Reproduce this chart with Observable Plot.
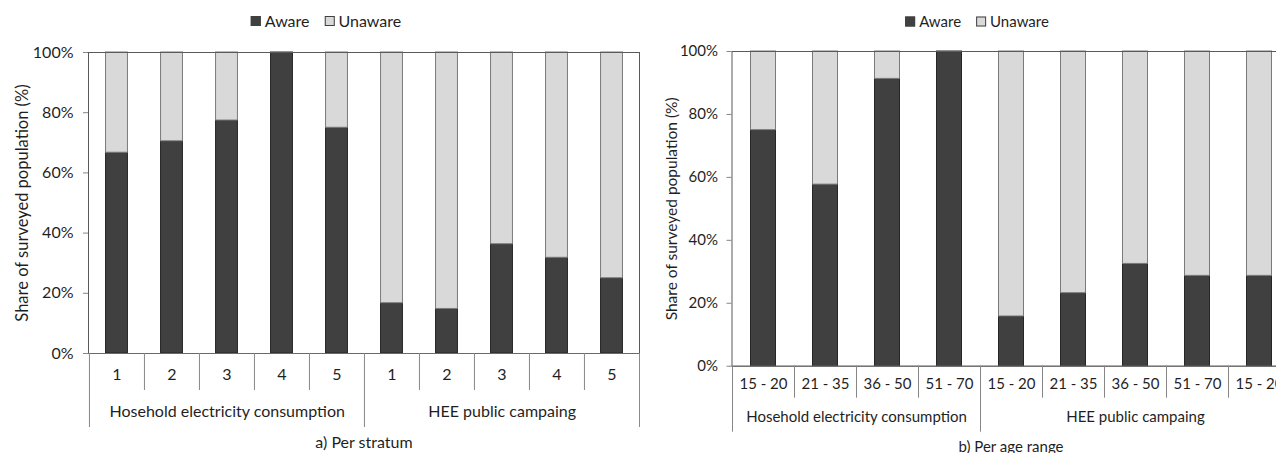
<!DOCTYPE html>
<html><head><meta charset="utf-8">
<script src="https://cdn.jsdelivr.net/npm/d3@7"></script>
<script src="https://cdn.jsdelivr.net/npm/@observablehq/plot@0.6"></script>
<style>
html,body{margin:0;padding:0;background:#fff;overflow:hidden;}
#wrap{position:relative;width:1276px;height:453px;overflow:hidden;font-family:Lato,sans-serif;color:#1f1f1f;}
.panel{position:absolute;top:0;height:453px;}
.panel svg{max-width:none !important;}
.legend{position:absolute;display:flex;align-items:center;transform:translate(-50%,-50%);white-space:nowrap;line-height:1;}
.sw{display:inline-block;width:8px;height:8px;border:1px solid #404040;margin-right:4px;}
.caption{position:absolute;transform:translate(-50%,-50%);white-space:nowrap;line-height:1;}
</style></head><body><div id="wrap"></div>
<script>
// ---- data ----
const seriesNames = ["Aware", "Unaware"];
const groupNames = ["Hosehold electricity consumption", "HEE public campaing"];
const strataLabels = ["1", "2", "3", "4", "5", "1", "2", "3", "4", "5"];
const strataGroupSizes = [5, 5];
const awareStratum = [66.7, 70.5, 77.4, 100, 75.0, 16.7, 14.8, 36.3, 31.8, 25.0];
const unawareStratum = [33.3, 29.5, 22.6, 0, 25.0, 83.3, 85.2, 63.7, 68.2, 75.0];
const ageLabels = ["15 - 20", "21 - 35", "36 - 50", "51 - 70", "15 - 20", "21 - 35", "36 - 50", "51 - 70", "15 - 20"];
const ageGroupSizes = [4, 5];
const awareAge = [75.0, 57.7, 91.3, 100, 15.8, 23.2, 32.5, 28.7, 28.7];
const unawareAge = [25.0, 42.3, 8.7, 0, 84.2, 76.8, 67.5, 71.3, 71.3];
const yTicks = [0, 20, 40, 60, 80, 100];
const yLabel = "Share of surveyed population (%)";
const captions = ["a) Per stratum", "b) Per age range"];

const fills = {Aware: "#404040", Unaware: "#d9d9d9"};
const strokes = {Aware: "#262626", Unaware: "#7a7a7a"};
const textColor = "#1f1f1f";

function panel(o) {
  const n = o.labels.length;
  const rows = [];
  o.labels.forEach((l, i) => rows.push({key: String(i), label: l, status: "Aware", value: o.aware[i]}));
  o.labels.forEach((l, i) => rows.push({key: String(i), label: l, status: "Unaware", value: o.unaware[i]}));
  const cats = rows.filter(d => d.status === "Aware");
  const plotW = o.width - o.ml - o.mr, plotH = o.height - o.mt - o.mb;
  const step = plotW / n;
  const inset = (step - o.barWidth) / 2;
  const starts = []; let s = 0; o.groupSizes.forEach(g => { starts.push(s); s += g; });
  const line = "#868686";
  const marks = [
    Plot.barY(rows, Plot.stackY({x: "key", y: "value", z: "status", order: seriesNames,
      fill: d => fills[d.status], stroke: d => strokes[d.status], strokeWidth: 1,
      insetLeft: inset, insetRight: inset})),
    Plot.frame({stroke: "#5a5a5a"}),
    Plot.ruleY([0], {stroke: "#6a6a6a"}),
    Plot.axisY({ticks: yTicks, tickFormat: d => d + "%", tickSize: 5, tickPadding: o.tickPadding,
      fontSize: o.fontSize, stroke: line, fill: textColor,
      label: null}),
    Plot.text([yLabel], {text: d => d, frameAnchor: "left", rotate: -90, dx: -o.yLabelOffset,
      fontSize: o.yLabelSize, fill: textColor, textAnchor: "middle"}),
    Plot.text(cats, {x: "key", text: "label", frameAnchor: "bottom", dy: o.labelDy, fontSize: o.fontSize, fill: textColor}),
    Plot.ruleX(cats.filter((d, i) => !starts.includes(i)), {x: "key", dx: -step / 2, insetTop: plotH, insetBottom: -o.sepDepth, stroke: line}),
    Plot.ruleX(starts.map(i => cats[i]), {x: "key", dx: -step / 2, insetTop: plotH, insetBottom: -o.groupDepth, stroke: line}),
    Plot.ruleX([cats[n - 1]], {x: "key", dx: step / 2, insetTop: plotH, insetBottom: -o.groupDepth, stroke: line}),
    ...o.groupNames.map((g, gi) => Plot.text([g], {x: () => cats[starts[gi]].key, text: d => d,
      dx: (o.groupSizes[gi] - 1) * step / 2, frameAnchor: "bottom", dy: o.groupDy, fontSize: o.fontSize, fill: textColor}))
  ];
  return Plot.plot({
    width: o.width, height: o.height,
    marginLeft: o.ml, marginRight: o.mr, marginTop: o.mt, marginBottom: o.mb,
    x: {type: "band", domain: cats.map(d => d.key), padding: 0, axis: null},
    y: {domain: [0, 100]},
    color: {type: "identity"},
    style: {fontFamily: "Lato, sans-serif", fontSize: o.fontSize + "px", background: "white", overflow: "visible", maxWidth: "none"},
    marks
  });
}

function legend(x, y, fontSize) {
  const d = document.createElement("div");
  d.className = "legend";
  d.style.left = x + "px"; d.style.top = y + "px"; d.style.fontSize = fontSize + "px";
  seriesNames.forEach((nme, i) => {
    const sw = document.createElement("span");
    sw.className = "sw"; sw.style.background = fills[nme];
    if (i > 0) sw.style.marginLeft = "15px";
    const t = document.createElement("span"); t.textContent = nme;
    d.appendChild(sw); d.appendChild(t);
  });
  return d;
}
function caption(text, x, y, fontSize) {
  const d = document.createElement("div");
  d.className = "caption"; d.textContent = text;
  d.style.left = x + "px"; d.style.top = y + "px"; d.style.fontSize = fontSize + "px";
  return d;
}

const wrap = document.getElementById("wrap");
const left = panel({labels: strataLabels, groupNames, groupSizes: strataGroupSizes, aware: awareStratum, unaware: unawareStratum,
  width: 640, height: 453, ml: 88, mr: 1, mt: 52, mb: 100, fontSize: 16, yLabelSize: 16.5, barWidth: 22, tickPadding: 10,
  labelDy: 26, sepDepth: 37, groupDy: 63, groupDepth: 74, yLabelOffset: 66});
const lp = document.createElement("div"); lp.className = "panel"; lp.style.left = "0px"; lp.style.width = "640px"; lp.appendChild(left);
wrap.appendChild(lp);

const right = panel({labels: ageLabels, groupNames, groupSizes: ageGroupSizes, aware: awareAge, unaware: unawareAge,
  width: 650, height: 453, ml: 91.5, mr: 0.5, mt: 51, mb: 87.3, fontSize: 15, yLabelSize: 15.5, barWidth: 25, tickPadding: 9,
  labelDy: 23, sepDepth: 32, groupDy: 56, groupDepth: 66, yLabelOffset: 60});
const rp = document.createElement("div"); rp.className = "panel"; rp.style.left = "640px"; rp.style.width = "650px"; rp.appendChild(right);
wrap.appendChild(rp);

wrap.appendChild(legend(326, 21, 16));
wrap.appendChild(legend(977, 21, 15));
wrap.appendChild(caption(captions[0], 364, 442, 16));
wrap.appendChild(caption(captions[1], 1011, 446, 15));
</script></body></html>
